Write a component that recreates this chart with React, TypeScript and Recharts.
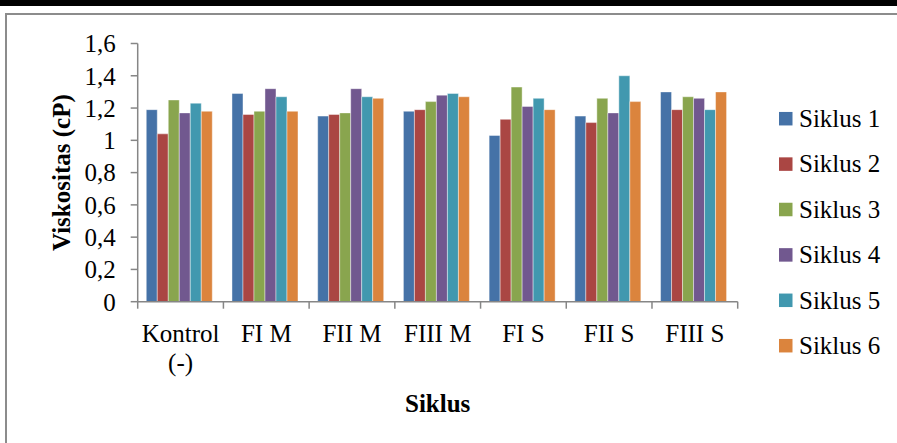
import React from "react"
import { BarChart, Bar, XAxis, YAxis, Legend, Label } from "recharts"

// viscosity (cP) per formula, one array per cycle
const categories = ["Kontrol\n(-)", "FI M", "FII M", "FIII M", "FI S", "FII S", "FIII S"]
const siklus1 = [1.19, 1.29, 1.15, 1.18, 1.03, 1.15, 1.3]
const siklus2 = [1.04, 1.16, 1.16, 1.19, 1.13, 1.11, 1.19]
const siklus3 = [1.25, 1.18, 1.17, 1.24, 1.33, 1.26, 1.27]
const siklus4 = [1.17, 1.32, 1.32, 1.28, 1.21, 1.17, 1.26]
const siklus5 = [1.23, 1.27, 1.27, 1.29, 1.26, 1.4, 1.19]
const siklus6 = [1.18, 1.18, 1.26, 1.27, 1.19, 1.24, 1.3]

const seriesNames = ["Siklus 1", "Siklus 2", "Siklus 3", "Siklus 4", "Siklus 5", "Siklus 6"]
const seriesValues = [siklus1, siklus2, siklus3, siklus4, siklus5, siklus6]
const seriesColors = ["#4572A7", "#AA4643", "#89A54E", "#71588F", "#4198AF", "#DB843D"]
const yTicks = [0, 0.2, 0.4, 0.6, 0.8, 1, 1.2, 1.4, 1.6]

const data = categories.map((name, i) => {
  const row: Record<string, string | number> = { name }
  seriesValues.forEach((vals, s) => {
    row["s" + (s + 1)] = vals[i]
  })
  return row
})

const FONT = "'Liberation Serif', 'Times New Roman', serif"
const AXIS = "#868686"
const W = 897
const H = 443
const MARGIN = { top: 43.5, right: 159.3, bottom: 0, left: 0 }
const Y_AXIS_W = 137.7
const X_AXIS_H = 141.3
const PLOT_BOTTOM = H - MARGIN.bottom - X_AXIS_H
const LEGEND_ROW = 45.4

const fmt = (v: number) => String(Number(v.toFixed(1))).replace(".", ",")

// Excel-style: tick marks sit between the categories, labels may take two lines
function CategoryTick(props: any) {
  const { x, payload, index } = props
  const half = payload && payload.offset ? payload.offset : 600 / categories.length / 2
  const lines = String(payload.value).split("\n")
  return (
    <g>
      <line x1={x - half} x2={x - half} y1={PLOT_BOTTOM} y2={PLOT_BOTTOM + 7} stroke={AXIS} strokeWidth={1.5} />
      {index === categories.length - 1 && (
        <line x1={x + half} x2={x + half} y1={PLOT_BOTTOM} y2={PLOT_BOTTOM + 7} stroke={AXIS} strokeWidth={1.5} />
      )}
      <text x={x} y={342} textAnchor="middle" fill="#000" fontSize={25} fontFamily={FONT}>
        {lines.map((l, i) => (
          <tspan key={i} x={x} dy={i === 0 ? 0 : 29}>
            {l}
          </tspan>
        ))}
      </text>
    </g>
  )
}

// legend drawn in svg so it uses the same serif face as the axes
function SeriesLegend(props: any) {
  const items = props.payload || []
  return (
    <svg width={118} height={items.length * LEGEND_ROW} style={{ display: "block" }}>
      {items.map((it: any, i: number) => {
        const cy = LEGEND_ROW / 2 + i * LEGEND_ROW
        return (
          <g key={it.value}>
            <rect x={0} y={cy - 6.75} width={13.5} height={13.5} fill={it.color} />
            <text x={20} y={cy + 8.3} fill="#000" fontSize={25} fontFamily={FONT}>
              {it.value}
            </text>
          </g>
        )
      })}
    </svg>
  )
}

export default function App() {
  return (
    <div style={{ position: "fixed", left: 0, top: 0, width: W, height: H, background: "#fff", overflow: "hidden" }}>
      <div style={{ position: "absolute", left: 0, top: 0, width: "100%", height: 6, background: "#000" }} />
      <div
        style={{
          position: "absolute",
          left: 5,
          top: 13,
          width: 900,
          height: 440,
          border: "2px solid #8c8c8c"
        }}
      />
      <div style={{ position: "absolute", left: 0, top: 0 }}>
        <BarChart width={W} height={H} data={data} margin={MARGIN} barCategoryGap="10%" barGap={0}>
          <XAxis
            dataKey="name"
            height={X_AXIS_H}
            interval={0}
            tickLine={false}
            axisLine={{ stroke: AXIS, strokeWidth: 1.5 }}
            tick={<CategoryTick />}
          >
            <Label
              value="Siklus"
              position="center"
              dy={31}
              fill="#000"
              fontSize={25}
              fontWeight="bold"
              fontFamily={FONT}
            />
          </XAxis>
          <YAxis
            width={Y_AXIS_W}
            domain={[0, 1.6]}
            ticks={yTicks}
            interval={0}
            tickFormatter={fmt}
            tickSize={7}
            tickMargin={15}
            axisLine={{ stroke: AXIS, strokeWidth: 1.5 }}
            tickLine={{ stroke: AXIS, strokeWidth: 1.5 }}
            tick={{ fill: "#000", fontSize: 25, fontFamily: FONT }}
          >
            <Label
              value="Viskositas (cP)"
              angle={-90}
              position="center"
              dx={-8}
              fill="#000"
              fontSize={25}
              fontWeight="bold"
              fontFamily={FONT}
            />
          </YAxis>
          <Legend
            layout="vertical"
            align="center"
            verticalAlign="middle"
            content={<SeriesLegend />}
            wrapperStyle={{ left: 779, top: 95.5, width: 118 }}
          />
          {seriesNames.map((n, i) => (
            <Bar
              key={n}
              dataKey={"s" + (i + 1)}
              name={n}
              fill={seriesColors[i]}
              stroke="#ffffff"
              strokeOpacity={0.6}
              strokeWidth={0.7}
              isAnimationActive={false}
            />
          ))}
        </BarChart>
      </div>
    </div>
  )
}
